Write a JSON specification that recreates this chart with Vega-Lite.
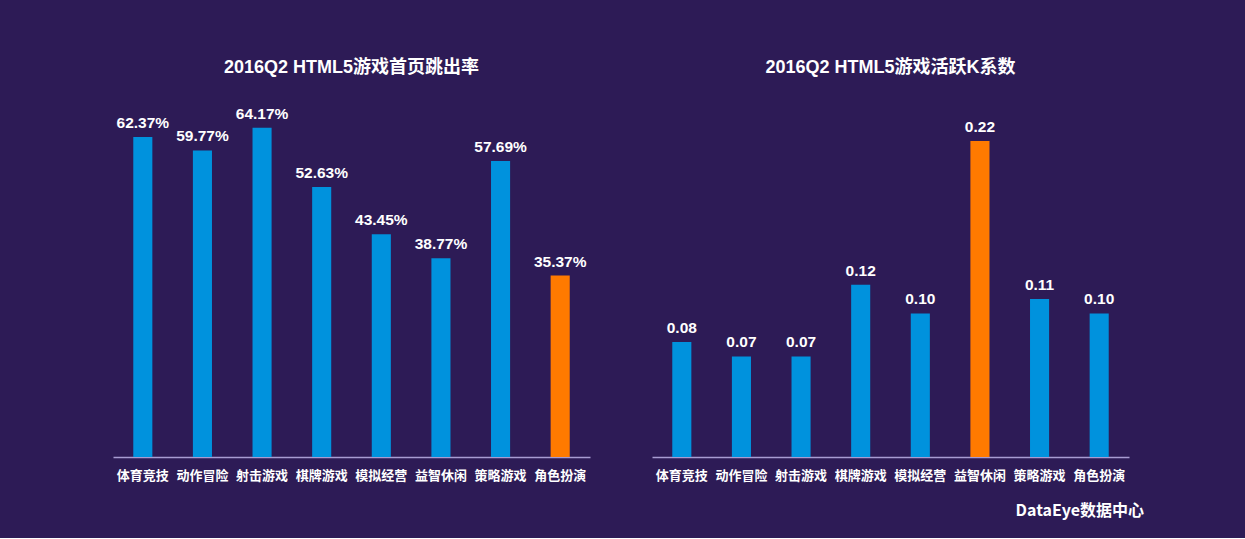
{
  "$schema": "https://vega.github.io/schema/vega-lite/v6.json",
  "background": "#2d1b56",
  "padding": {"left": 113, "top": 59, "right": 116, "bottom": 19},
  "spacing": 62,
  "title": {"text": "DataEye数据中心", "orient": "bottom", "anchor": "end", "dx": 15,
            "offset": 21, "fontSize": 16, "font": "Noto Sans CJK SC", "fontWeight": "bold", "color": "#ffffff"},
  "datasets": {
    "bounce": [
      {"cat": "体育竞技", "v": 0.6237, "hl": "n"},
      {"cat": "动作冒险", "v": 0.5977, "hl": "n"},
      {"cat": "射击游戏", "v": 0.6417, "hl": "n"},
      {"cat": "棋牌游戏", "v": 0.5263, "hl": "n"},
      {"cat": "模拟经营", "v": 0.4345, "hl": "n"},
      {"cat": "益智休闲", "v": 0.3877, "hl": "n"},
      {"cat": "策略游戏", "v": 0.5769, "hl": "n"},
      {"cat": "角色扮演", "v": 0.3537, "hl": "y"}
    ],
    "kfactor": [
      {"cat": "体育竞技", "v": 0.08, "hl": "n"},
      {"cat": "动作冒险", "v": 0.07, "hl": "n"},
      {"cat": "射击游戏", "v": 0.07, "hl": "n"},
      {"cat": "棋牌游戏", "v": 0.12, "hl": "n"},
      {"cat": "模拟经营", "v": 0.10, "hl": "n"},
      {"cat": "益智休闲", "v": 0.22, "hl": "y"},
      {"cat": "策略游戏", "v": 0.11, "hl": "n"},
      {"cat": "角色扮演", "v": 0.10, "hl": "n"}
    ]
  },
  "hconcat": [
    {
      "width": 477,
      "height": 357,
      "data": {"name": "bounce"},
      "title": {"text": "2016Q2 HTML5游戏首页跳出率"},
      "encoding": {
        "x": {"field": "cat", "type": "nominal", "sort": null, "title": null,
              "scale": {"paddingInner": 0.68, "paddingOuter": 0.34}},
        "y": {"field": "v", "type": "quantitative", "axis": null,
              "scale": {"domain": [0, 0.696], "nice": false, "zero": true}}
      },
      "layer": [
        {"mark": {"type": "bar"},
         "encoding": {"color": {"field": "hl", "type": "nominal", "legend": null,
                                "scale": {"domain": ["n", "y"], "range": ["#0092dd", "#ff7a00"]}}}},
        {"mark": {"type": "text", "dy": -9, "baseline": "alphabetic", "fontSize": 15.5, "fontWeight": "bold",
                  "font": "Liberation Sans", "color": "#ffffff"},
         "encoding": {"text": {"field": "v", "type": "quantitative", "format": ".2%"}}}
      ]
    },
    {
      "width": 477,
      "height": 357,
      "data": {"name": "kfactor"},
      "title": {"text": "2016Q2 HTML5游戏活跃K系数"},
      "encoding": {
        "x": {"field": "cat", "type": "nominal", "sort": null, "title": null,
              "scale": {"paddingInner": 0.68, "paddingOuter": 0.34}},
        "y": {"field": "v", "type": "quantitative", "axis": null,
              "scale": {"domain": [0, 0.2486], "nice": false, "zero": true}}
      },
      "layer": [
        {"mark": {"type": "bar"},
         "encoding": {"color": {"field": "hl", "type": "nominal", "legend": null,
                                "scale": {"domain": ["n", "y"], "range": ["#0092dd", "#ff7a00"]}}}},
        {"mark": {"type": "text", "dy": -9, "baseline": "alphabetic", "fontSize": 15.5, "fontWeight": "bold",
                  "font": "Liberation Sans", "color": "#ffffff"},
         "encoding": {"text": {"field": "v", "type": "quantitative", "format": ".2f"}}}
      ]
    }
  ],
  "resolve": {"scale": {"color": "independent"}},
  "config": {
    "view": {"stroke": null},
    "title": {"color": "#ffffff", "fontSize": 18, "fontWeight": "bold",
              "font": "Liberation Sans, Noto Sans CJK SC", "offset": 23, "anchor": "middle"},
    "axisX": {
      "domainColor": "#a89cd2", "domainWidth": 1.5, "ticks": false, "grid": false,
      "labelAngle": 0, "labelColor": "#ffffff", "labelFontSize": 13, "labelFontWeight": "bold",
      "labelFont": "Noto Sans CJK SC", "labelPadding": 12
    }
  }
}
